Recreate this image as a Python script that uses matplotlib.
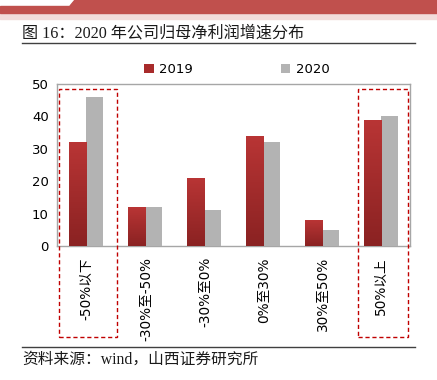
import matplotlib
matplotlib.use("Agg")
import matplotlib.pyplot as plt
import matplotlib.patches as mpatches
import matplotlib.transforms as mtransforms
import numpy as np
from matplotlib.colors import LinearSegmentedColormap

plt.rcParams['font.family'] = ['DejaVu Sans', 'Noto Sans CJK SC']

categories = ["-50%以下", "-30%至-50%", "-30%至0%", "0%至30%", "30%至50%", "50%以上"]
series_names = ["2019", "2020"]
values_2019 = [32, 12, 21, 34, 8, 39]
values_2020 = [46, 12, 11, 32, 5, 40]
yticks = [0, 10, 20, 30, 40, 50]
title = "图 16：2020 年公司归母净利润增速分布"
source = "资料来源：wind，山西证券研究所"
highlight = [0, 5]

W, H = 437, 380
fig = plt.figure(figsize=(W / 100, H / 100), dpi=100)

def fx(px): return px / W
def fy(py): return 1 - py / H

# header banner
fig.patches.append(mpatches.Rectangle((0, fy(19)), 1, fy(13) - fy(19), transform=fig.transFigure,
                                      color="#f2dcdb", zorder=0))
fig.patches.append(mpatches.Rectangle((0, fy(13)), 1, fy(6) - fy(13), transform=fig.transFigure,
                                      color="#c0504d", zorder=0))
fig.patches.append(mpatches.Polygon([(fx(70), fy(6)), (fx(75), fy(0)), (1, fy(0)), (1, fy(6))],
                                    closed=True, transform=fig.transFigure, color="#c0504d", zorder=0))

fig.text(fx(22), fy(33), title, fontsize=11.6, va="center", ha="left",
         family=['Liberation Serif', 'Noto Sans CJK SC'], color="#1a1a1a")
fig.add_artist(plt.Line2D([fx(22), fx(415)], [fy(43), fy(43)], color="#404040", lw=1.0,
                          transform=fig.transFigure))
fig.add_artist(plt.Line2D([fx(22), fx(415)], [fy(347), fy(347)], color="#404040", lw=1.0,
                          transform=fig.transFigure))
fig.text(fx(22), fy(360), source, fontsize=11.3, va="center", ha="left",
         family=['Liberation Serif', 'Noto Sans CJK SC'], color="#1a1a1a")

ax = fig.add_axes([fx(57), fy(246), fx(410) - fx(57), fy(84) - fy(246)])
x = np.arange(len(categories))
bw = 0.29
red_bars = ax.bar(x - bw / 2, values_2019, bw, color="#a82b2b", label=series_names[0], zorder=3)
gray_bars = ax.bar(x + bw / 2, values_2020, bw, color="#b3b3b3", label=series_names[1], zorder=3)

# gradient on red bars
grad = np.linspace(0, 1, 256).reshape(-1, 1)
cmap = LinearSegmentedColormap.from_list("r", ["#8a2222", "#b93535"])
for b in red_bars:
    x0, y0 = b.get_x(), b.get_y()
    w, h = b.get_width(), b.get_height()
    im = ax.imshow(grad, extent=[x0, x0 + w, y0, y0 + h], origin="lower", cmap=cmap,
                   aspect="auto", zorder=4)
    im.set_clip_path(b)

ax.set_xlim(-0.5, len(categories) - 0.5)
ax.set_ylim(0, 50)
ax.set_yticks(yticks)
ax.set_xticks(x)
ax.set_xticklabels(categories, rotation=90, family=['DejaVu Sans', 'Noto Sans CJK SC'],
                   fontsize=9.8, va="top")
ax.tick_params(axis="y", labelsize=9.5, length=0, pad=6)
ax.tick_params(axis="x", length=0, pad=8)
for s in ax.spines.values():
    s.set_color("#a6a6a6")
    s.set_linewidth(1.0)

ax.legend(loc="lower left", bbox_to_anchor=(0.225, 1.0), ncol=2, frameon=False,
          fontsize=9.5, handlelength=0.7, handleheight=0.7, handletextpad=0.4,
          columnspacing=6.7, borderaxespad=0.2)

# dashed highlight boxes
trans = mtransforms.blended_transform_factory(ax.transData, fig.transFigure)
boxes = {0: (-0.47, 0.52), 5: (-0.38, 0.47)}
for i in highlight:
    a, bb = boxes[i]
    ax.add_patch(mpatches.Rectangle((i + a, fy(337)), bb - a, fy(89) - fy(337), transform=trans,
                                    fill=False, edgecolor="#c00000", lw=1.0, ls=(0, (3, 2)),
                                    clip_on=False, zorder=5))

fig.savefig("out.png", dpi=100)
